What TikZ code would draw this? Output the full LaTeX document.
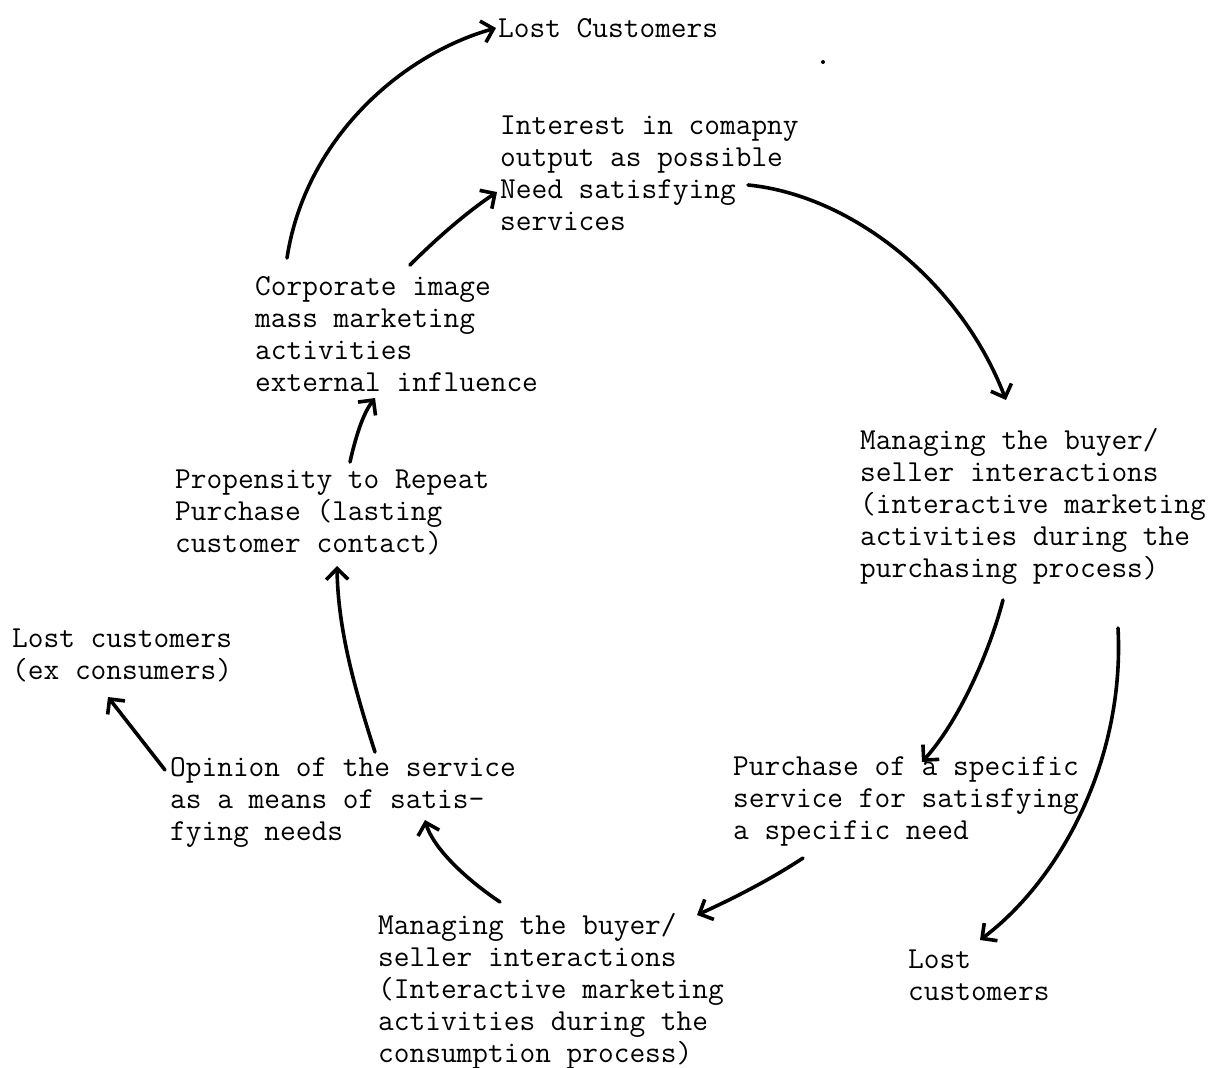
\documentclass[tikz,border=0pt]{standalone}
\usetikzlibrary{arrows.meta,calc}
\begin{document}
\begin{tikzpicture}[x=1pt,y=-1pt,
  lbl/.style={align=left, inner sep=0pt, anchor=north west,
    font=\fontsize{30.5}{32}\selectfont\ttfamily},
  flow/.style={line width=3.6pt, line cap=round,
    -{Straight Barb[length=11pt,width=22pt,line width=3.6pt]}}]
\useasboundingbox (0,0) rectangle (1216,1068);

% text blocks
\node[lbl] (lostTop)    at (498,14.6)  {\strut Lost Customers};
\node[lbl] (interest)   at (500,111.6) {\strut Interest in comapny\\output as possible\\Need satisfying\\services};
\node[lbl] (corporate)  at (255,272.6) {\strut Corporate image\\mass marketing\\activities\\external influence};
\node[lbl] (propensity) at (175,465.6) {\strut Propensity to Repeat\\Purchase (lasting\\customer contact)};
\node[lbl] (lostEx)     at (12,624.6)  {\strut Lost customers\\(ex consumers)};
\node[lbl] (opinion)    at (170,753.6) {\strut Opinion of the service\\as a means of satis-\\fying needs};
\node[lbl] (manCons)    at (378,911.6) {\strut Managing the buyer/\\seller interactions\\(Interactive marketing\\activities during the\\consumption process)};
\node[lbl] (manPurch)   at (860,426.6) {\strut Managing the buyer/\\seller interactions\\(interactive marketing\\activities during the\\purchasing process)};
\node[lbl] (purchase)   at (733,752.6) {\strut Purchase of a specific\\service for satisfying\\a specific need};
\node[lbl] (lostRight)  at (908,945.6) {\strut Lost\\customers};

% connectors
\draw[flow] ([shift={(32,-14.6)}]corporate.north west)
  .. controls (305,140) and (400,55) .. ([shift={(-2,13.4)}]lostTop.north west);
\draw[flow] ([shift={(155,-7.6)}]corporate.north west)
  .. controls (440,235) and (470,210) .. ([shift={(-3,80.4)}]interest.north west);
\draw[flow] ([shift={(248,73.4)}]interest.north west)
  .. controls (850,195) and (960,280) .. ([shift={(146,-26.6)}]manPurch.north west);
\draw[flow] ([shift={(143,173.4)}]manPurch.north west)
  .. controls (990,650) and (960,720) .. ([shift={(189,9.4)}]purchase.north west);
\draw[flow] ([shift={(258,201.4)}]manPurch.north west)
  .. controls (1125,760) and (1060,880) .. ([shift={(72,-5.6)}]lostRight.north west);
\draw[flow] ([shift={(70,105.4)}]purchase.north west)
  .. controls (770,880) and (730,900) .. ([shift={(319,3.4)}]manCons.north west);
\draw[flow] ([shift={(122,-9.6)}]manCons.north west)
  .. controls (460,875) and (432,845) .. ([shift={(255,66.4)}]opinion.north west);
\draw[flow] ([shift={(205,-1.6)}]opinion.north west)
  .. controls (355,690) and (338,630) .. ([shift={(162,100.4)}]propensity.north west);
\draw[flow] ([shift={(-5,16.4)}]opinion.north west) -- ([shift={(96,72.4)}]lostEx.north west);
\draw[flow] ([shift={(175,-3.6)}]propensity.north west)
  .. controls (355,440) and (362,415) .. ([shift={(120,125.4)}]corporate.north west);

% stray ink mark
\fill (823,62) circle (2pt);
\end{tikzpicture}
\end{document}
